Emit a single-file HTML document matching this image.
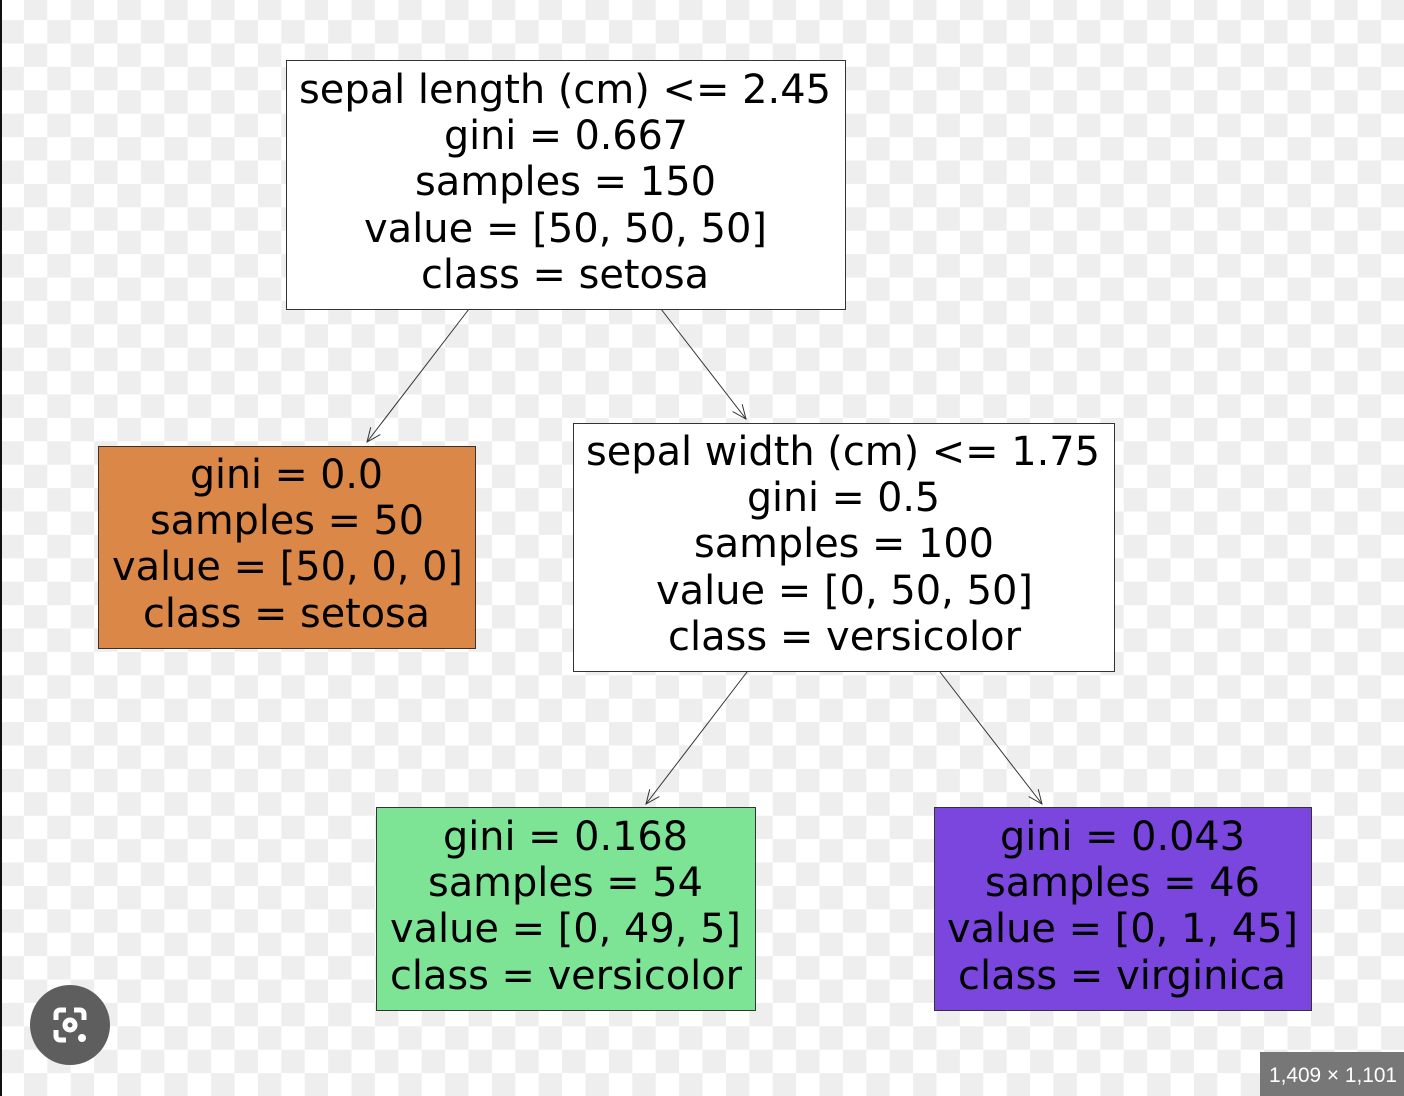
<!DOCTYPE html>
<html><head><meta charset="utf-8"><style>
html,body{margin:0;padding:0;width:1404px;height:1096px;overflow:hidden;background:#fff}
svg{display:block}
text{font-family:"DejaVu Sans","Liberation Sans",sans-serif;font-size:40px;fill:#000}
</style></head><body>
<svg width="1404" height="1096" viewBox="0 0 1404 1096" xmlns="http://www.w3.org/2000/svg">
<defs>
<pattern id="ck" x="0.5" y="-3.3" width="46.8" height="46.8" patternUnits="userSpaceOnUse">
<rect width="46.8" height="46.8" fill="#ffffff"/>
<rect x="23.4" y="0" width="23.4" height="23.4" fill="#eeeeee"/>
<rect x="0" y="23.4" width="23.4" height="23.4" fill="#eeeeee"/>
</pattern>
<marker id="ah" markerWidth="16" markerHeight="16" refX="15" refY="8" orient="auto" markerUnits="userSpaceOnUse">
<path d="M1,2 L15,8 L1,14" fill="none" stroke="#333" stroke-width="1"/>
</marker>
</defs>
<rect width="1404" height="1096" fill="url(#ck)"/>
<rect x="0" y="0" width="2" height="1096" fill="#111"/>

<g stroke="#333" stroke-width="1" fill="none">
<line x1="469" y1="309" x2="367" y2="442" marker-end="url(#ah)"/>
<line x1="661" y1="309" x2="746" y2="419" marker-end="url(#ah)"/>
<line x1="747" y1="672" x2="646" y2="804" marker-end="url(#ah)"/>
<line x1="940" y1="672" x2="1042" y2="804" marker-end="url(#ah)"/>
</g>

<rect x="286.5" y="60.5" width="559" height="249" fill="#fff" stroke="#333"/>
<rect x="98.5" y="446.5" width="377" height="202" fill="#da8747" stroke="#333"/>
<rect x="573.5" y="423.5" width="541" height="248" fill="#fff" stroke="#333"/>
<rect x="376.5" y="807.5" width="379" height="203" fill="#7de496" stroke="#333"/>
<rect x="934.5" y="807.5" width="377" height="203" fill="#7b46de" stroke="#333"/>

<text x="299" y="103" textLength="532" lengthAdjust="spacingAndGlyphs">sepal length (cm) &lt;= 2.45</text>
<text x="444" y="149" textLength="244" lengthAdjust="spacingAndGlyphs">gini = 0.667</text>
<text x="415" y="195" textLength="301" lengthAdjust="spacingAndGlyphs">samples = 150</text>
<text x="364" y="242" textLength="403" lengthAdjust="spacingAndGlyphs">value = [50, 50, 50]</text>
<text x="421" y="288" textLength="288" lengthAdjust="spacingAndGlyphs">class = setosa</text>

<text x="190" y="488" textLength="193" lengthAdjust="spacingAndGlyphs">gini = 0.0</text>
<text x="150" y="534" textLength="274" lengthAdjust="spacingAndGlyphs">samples = 50</text>
<text x="112" y="580" textLength="351" lengthAdjust="spacingAndGlyphs">value = [50, 0, 0]</text>
<text x="143" y="627" textLength="287" lengthAdjust="spacingAndGlyphs">class = setosa</text>

<text x="586" y="465" textLength="514" lengthAdjust="spacingAndGlyphs">sepal width (cm) &lt;= 1.75</text>
<text x="747" y="511" textLength="193" lengthAdjust="spacingAndGlyphs">gini = 0.5</text>
<text x="694" y="557" textLength="300" lengthAdjust="spacingAndGlyphs">samples = 100</text>
<text x="656" y="604" textLength="377" lengthAdjust="spacingAndGlyphs">value = [0, 50, 50]</text>
<text x="668" y="650" textLength="353" lengthAdjust="spacingAndGlyphs">class = versicolor</text>

<text x="443" y="850" textLength="245" lengthAdjust="spacingAndGlyphs">gini = 0.168</text>
<text x="428" y="896" textLength="275" lengthAdjust="spacingAndGlyphs">samples = 54</text>
<text x="390" y="942" textLength="351" lengthAdjust="spacingAndGlyphs">value = [0, 49, 5]</text>
<text x="390" y="989" textLength="352" lengthAdjust="spacingAndGlyphs">class = versicolor</text>

<text x="1000" y="850" textLength="245" lengthAdjust="spacingAndGlyphs">gini = 0.043</text>
<text x="985" y="896" textLength="275" lengthAdjust="spacingAndGlyphs">samples = 46</text>
<text x="947" y="942" textLength="351" lengthAdjust="spacingAndGlyphs">value = [0, 1, 45]</text>
<text x="958" y="989" textLength="328" lengthAdjust="spacingAndGlyphs">class = virginica</text>

<circle cx="70" cy="1025" r="40" fill="#5e5e5e"/>
<g fill="none" stroke="#fff" stroke-width="5">
<path d="M56,1020 v-6 a4,4 0 0 1 4,-4 h6 M74,1010 h6 a4,4 0 0 1 4,4 v6 M56,1030 v6 a4,4 0 0 0 4,4 h6"/>
<circle cx="70" cy="1025" r="5"/>
</g>
<circle cx="82" cy="1038" r="4" fill="#fff"/>

<rect x="1260" y="1052" width="144" height="44" fill="#777"/>
<text x="1269" y="1082" style="font-family:'Liberation Sans',sans-serif;font-size:21px;fill:#fff" textLength="128" lengthAdjust="spacingAndGlyphs">1,409 × 1,101</text>
</svg>
</body></html>
